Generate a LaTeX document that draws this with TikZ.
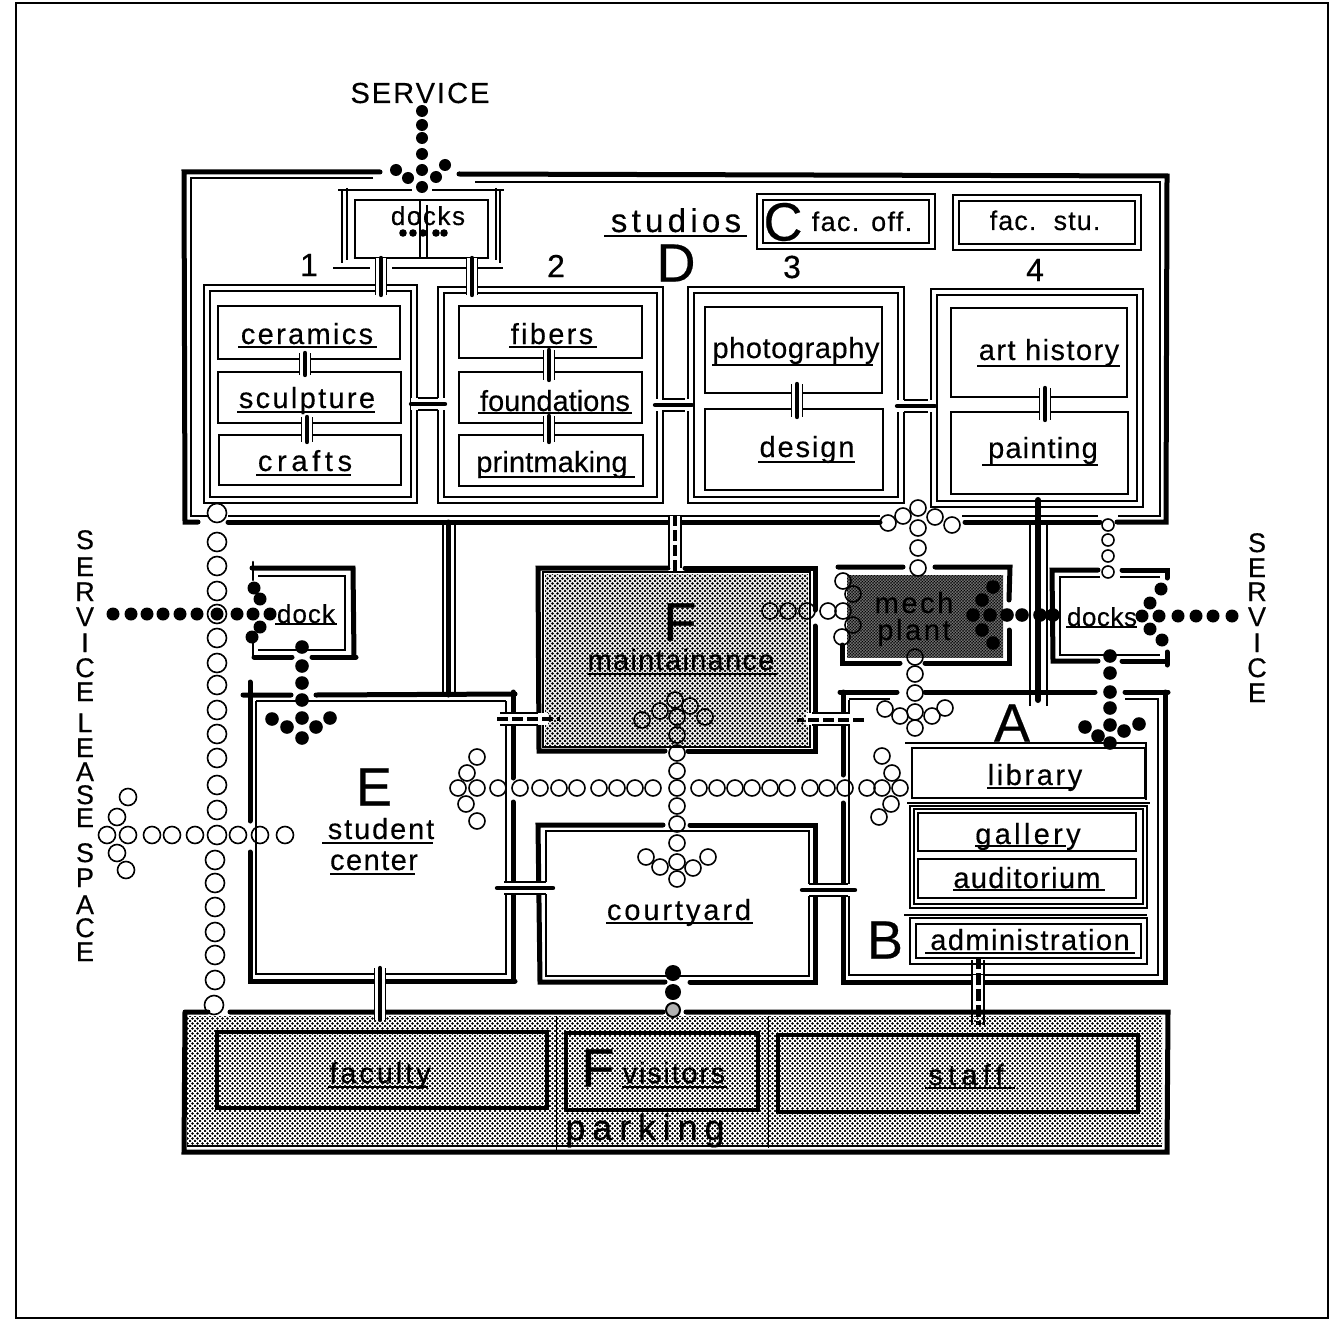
\documentclass[tikz,border=0pt]{standalone}
\usepackage{fontspec}
\setmainfont[FakeBold=0.35]{Liberation Sans}
\usetikzlibrary{patterns}
\pgfdeclarepatternformonly{ht}{\pgfqpoint{-1pt}{-1pt}}{\pgfqpoint{5.5pt}{5.5pt}}{\pgfqpoint{5pt}{5pt}}{%
 \pgfpathcircle{\pgfqpoint{0pt}{0pt}}{1.45pt}\pgfpathcircle{\pgfqpoint{2.5pt}{2.5pt}}{1.45pt}\pgfusepath{fill}}
\pgfdeclarepatternformonly{htd}{\pgfqpoint{-1pt}{-1pt}}{\pgfqpoint{3.5pt}{3.5pt}}{\pgfqpoint{3pt}{3pt}}{%
 \pgfpathcircle{\pgfqpoint{0pt}{0pt}}{1.05pt}\pgfpathcircle{\pgfqpoint{1.5pt}{1.5pt}}{1.05pt}\pgfusepath{fill}}
\tikzset{
 hw/.style={line width=5pt,line cap=round},
 rw/.style={line width=2.6pt,line cap=round},
 lw/.style={line width=1.2pt},
 oring/.style={line width=1.6pt},
 txt/.style={anchor=base,inner sep=0pt,font=\fontsize{29}{31}\selectfont},
 big/.style={inner sep=0pt,font=\fontsize{54}{56}\selectfont},
 num/.style={inner sep=0pt,font=\fontsize{32}{34}\selectfont},
 caps/.style={inner sep=0pt,anchor=north,align=center,font=\fontsize{27}{23}\selectfont},
}
\newcommand\lab[5]{\node[txt] (#1) at (#2,#3) {\addfontfeature{LetterSpace=#4}#5};}
\newcommand\ul[3]{\draw[line width=1.4pt] (#1,#3)--(#2,#3);}
\newcommand\oc[2]{\foreach \x/\y in {#2}{\draw[oring] (\x,\y) circle[radius=#1pt];}}
\newcommand\bc[2]{\foreach \x/\y in {#2}{\fill (\x,\y) circle[radius=#1pt];}}
\newcommand\rr[4]{\draw[rw,line cap=butt,line join=miter] (#1,#2) rectangle (#3,#4);}
\newcommand\dr[4]{\draw[rw,line join=miter] (#1,#2) rectangle (#3,#4);
 \draw[lw] ({#1+6},{#2+6}) rectangle ({#3-6},{#4-6});}
\newcommand\hd[3]{\fill[white] (#1,{#3-6}) rectangle (#2,{#3+6});
 \draw[line width=4.4pt,line cap=round] (#1,#3)--(#2,#3);
 \draw[lw] ({#1+7},{#3-6})--({#2-7},{#3-6}) ({#1+7},{#3+6})--({#2-7},{#3+6});}
\newcommand\vd[3]{\fill[white] ({#1-5.5},#2) rectangle ({#1+5.5},#3);
 \draw[line width=4.4pt,line cap=round] (#1,#2)--(#1,#3);
 \draw[lw] ({#1-5.5},#2)--({#1-5.5},#3) ({#1+5.5},#2)--({#1+5.5},#3);}
\begin{document}
\begin{tikzpicture}[x=1pt,y=-1pt]
\useasboundingbox (0,0) rectangle (1337,1321);
\draw[line width=1.5pt] (16,3) rectangle (1328,1318);
%% shaded fields
\fill[black!8] (545,574) rectangle (808,745);
\fill[pattern=ht] (545,574) rectangle (808,745);
\fill[black!15] (847,575) rectangle (1003,657);
\fill[pattern=htd] (847,575) rectangle (1003,657);
\fill[pattern=ht] (187,1016) rectangle (1162,1146);
%% studios outer
\draw[hw] (380,172)--(184,172)--(185,522)--(198,522);
\draw[hw] (459,174)--(1167,176)--(1166,522)--(1117,522);
\draw[hw] (1100,522)--(965,522);
\draw[hw] (228,522)--(880,522);
\draw[lw] (373,178)--(191,178)--(191,516)--(208,516);
\draw[lw] (475,182)--(1160,182)--(1160,516)--(1118,516);
\draw[lw] (228,516)--(880,516) (962,516)--(1098,516);
%% docks top
\draw[rw,line cap=butt] (342,190)--(342,263) (500,190)--(500,263);
\draw[lw] (338,190)--(412,190) (432,190)--(504,190);
\draw[lw] (347,188)--(347,260) (496,188)--(496,260);
\draw[lw] (355,200) rectangle (488,258);
\draw[lw] (333,268)--(370,268) (392,268)--(503,268);
\draw[lw] (420,200)--(420,258) (427,205)--(427,258);
\draw[rw] (355,258)--(488,258);
%% groups
\dr{204}{285}{417}{503}
\dr{438}{287}{663}{503}
\dr{688}{287}{904}{503}
\dr{931}{289}{1143}{507}
%% rooms
\rr{218}{306}{400}{359}\rr{218}{372}{401}{423}\rr{219}{435}{401}{485}
\rr{459}{306}{642}{358}\rr{459}{372}{642}{423}\rr{459}{435}{643}{486}
\rr{705}{307}{882}{393}\rr{705}{409}{883}{490}
\rr{951}{308}{1127}{397}\rr{951}{412}{1128}{494}
\dr{757}{194}{935}{249}
\dr{953}{195}{1141}{250}
%% room doors
\vd{305}{353}{375}\vd{307}{417}{442}\vd{549}{350}{380}\vd{549}{416}{442}
\vd{797}{384}{417}\vd{1045}{388}{420}
\vd{381}{258}{295}\vd{472}{258}{295}
\hd{411}{445}{404}\hd{655}{692}{405}\hd{897}{935}{406}
%% left dock
\draw[hw] (252,568)--(353,568)--(354,657);
\draw[hw] (254,657)--(292,657) (312,657)--(356,657);
\draw[rw] (253,562)--(253,580) (253,640)--(253,657);
\draw[lw] (258,576)--(345,576)--(345,650)--(258,650);
%% student centre
\draw[hw] (243,695)--(291,695) (316,695)--(515,694);
\draw[hw] (250,682)--(250,821) (250,852)--(250,981)--(515,981);
\draw[hw] (513,692)--(513,778) (513,802)--(513,981);
\draw[lw] (256,701)--(506,701) (256,701)--(256,974)--(506,974)--(506,701);
%% long walls
\draw[hw] (448,522)--(448,695);
\draw[lw] (443,522)--(443,693) (455,522)--(455,693);
\draw[line width=6pt,line cap=round] (1038,500)--(1038,700);
\draw[lw] (1030,525)--(1030,706) (1047,525)--(1047,706);
%% maintenance
\draw[hw] (668,568)--(538,568)--(539,751)--(665,751);
\draw[hw] (685,568)--(815,568)--(815,610) (815,626)--(815,751)--(688,751);
\draw[lw] (543,572) rectangle (810,747);
%% courtyard
\draw[hw] (663,825)--(538,825)--(540,982)--(665,982);
\draw[hw] (690,825)--(815,825)--(815,982)--(690,982);
\draw[lw] (546,831)--(809,831)--(809,976)--(546,976)--cycle;
%% mech plant
\draw[hw] (903,567)--(838,567) (935,567)--(1010,567)--(1009,600);
\draw[hw] (1009,630)--(1009,663)--(925,663) (900,663)--(842,663)--(842,645);
%% right docks
\draw[hw] (1098,570)--(1052,570)--(1053,661)--(1098,661);
\draw[hw] (1122,570)--(1167,570)--(1167,578) (1122,661)--(1167,661) (1167,652)--(1167,665);
\draw[lw] (1100,577)--(1060,577)--(1060,655)--(1160,655) (1120,577)--(1160,577);
%% A / B
\draw[hw] (840,692)--(897,692) (925,692)--(1095,692) (1125,692)--(1168,692);
\draw[hw] (1165,692)--(1165,982)--(843,982)--(843,803) (843,775)--(843,692);
\draw[lw] (849,700)--(849,975)--(1158,975)--(1158,699)--(1125,699);
\draw[lw] (849,699)--(890,699);
\dr{910}{918}{1147}{964}
\draw[rw,line cap=butt] (912,748) rectangle (1145,798);
\draw[lw] (905,743)--(1147,743) (1146,742)--(1146,800) (907,803)--(1150,803);
\draw[lw] (910,806) rectangle (1147,908);
\draw[rw,line cap=butt] (914,809) rectangle (1143,904);
\draw[rw,line cap=butt] (918,813) rectangle (1136,851);
\draw[rw,line cap=butt] (918,859) rectangle (1136,898);
\draw[lw] (904,915)--(1147,915);
%% parking
\draw[hw] (185,1012)--(208,1012) (230,1012)--(663,1012) (686,1012)--(1168,1012)--(1167,1152)--(184,1152)--(185,1012);
\draw[lw] (187,1146)--(1162,1146);
\draw[line width=0.9pt] (556,1016)--(556,1150) (768,1016)--(768,1148);
\draw[line width=4pt,line join=miter] (217,1032) rectangle (547,1108);
\draw[line width=4pt,line join=miter] (566,1033) rectangle (758,1110);
\draw[line width=4pt,line join=miter] (778,1035) rectangle (1138,1112);
%% connecting doors
\vd{380}{968}{1020}
\hd{497}{553}{888}\hd{802}{855}{890}
\fill[white] (669,516) rectangle (681,568);
\draw[lw] (669,516)--(669,568) (681,516)--(681,568);
\draw[line width=4.4pt,dash pattern=on 11pt off 4pt] (675,515)--(675,572);
\fill[white] (497,713) rectangle (548,725);
\draw[lw] (500,713)--(538,713) (500,725)--(538,725);
\draw[line width=4.4pt,dash pattern=on 11pt off 4pt] (497,719)--(560,719);
\fill[white] (806,713) rectangle (850,725);
\draw[lw] (812,713)--(850,713) (812,725)--(850,725);
\draw[line width=4.4pt,dash pattern=on 11pt off 4pt] (864,720)--(797,720);
\fill[white] (972,975) rectangle (984,1008);
\draw[lw] (972,960)--(972,1025) (984,960)--(984,1025);
\draw[line width=5pt,dash pattern=on 12pt off 4pt] (978,957)--(978,1025);
%% circulation: open
\oc{9.5}{217/513,217/542,217/566,217/591,217/614,217/638,217/663,217/685,217/710,217/734,217/758,217/785,217/810,217/835,215/860,215/883,215/907,215/932,215/955,215/980,214/1005}
\oc{8.5}{107/835,128/835,152/835,172/835,195/835,238/835,260/835,285/835,128/797,117/817,117/853,126/870}
\oc{8}{458/788,477/788,498/788,520/788,540/788,559/788,577/788,599/788,617/788,635/788,653/788,677/788,699/788,717/788,735/788,752/788,770/788,787/788,810/788,827/788,845/788,867/788,882/788,900/788,477/757,467/773,466/804,477/821,882/756,892/773,891/804,879/817}
\oc{8}{675/700,677/717,677/735,677/753,677/771,677/806,677/824,677/843,677/862,677/879,642/720,660/711,690/706,705/717,646/857,660/867,693/868,708/857}
\oc{8}{918/508,918/528,918/548,918/568,888/523,903/516,935/517,952/525,915/657,915/674,915/693,915/712,915/728,885/709,900/716,932/716,945/708}
\oc{8}{770/611,788/611,807/611,828/611,843/611,843/581,853/594,853/625,842/637}
\oc{6}{1108/525,1108/540,1108/556,1108/572}
%% circulation: filled
\bc{6.5}{113/614,131/614,147/614,163/614,180/614,197/614,217/614,237/614,253/614,270/614,254/588,260/599,260/627,252/637}
\bc{6.8}{302/647,302/666,302/683,302/700,302/718,302/738,272/719,287/727,316/727,330/718}
\bc{6.8}{973/615,990/615,1007/615,1022/615,1040/615,1053/615,993/587,982/600,982/630,993/643}
\bc{6.5}{1232/616,1213/616,1196/616,1178/616,1159/616,1142/616,1161/589,1150/603,1150/629,1162/640}
\bc{6.8}{1110/656,1110/673,1110/692,1110/708,1110/725,1110/743,1085/727,1098/736,1124/731,1139/724}
\bc{6}{422/111,422/125,422/138,422/154,422/170,422/187,396/170,408/178,436/177,445/165}
\bc{3.8}{403/233,413/233,423/233,436/233,444/233}
\bc{8}{673/973,673/992}
\draw[line width=2pt,fill=black!30] (673,1010) circle[radius=7pt];
%% labels
\lab{tc}{420}{103}{7}{SERVICE}
\lab{tdk}{428}{225}{6}{\fontsize{26}{28}\selectfont docks}
\lab{tst}{676}{232}{13}{\fontsize{33}{35}\selectfont studios}
\ul{604}{747}{236}
\lab{tfo}{862}{231}{5}{\fontsize{27}{29}\selectfont fac. off.}
\lab{tfs}{1045}{230}{4}{\fontsize{27}{29}\selectfont fac.\ \ stu.}
\node[big] (nC) at (783,222) {C};
\node[big] (nD) at (676,263) {D};
\node[num] (n1) at (309,265) {1};
\node[num] (n2) at (556,266) {2};
\node[num] (n3) at (792,267) {3};
\node[num] (n4) at (1035,270) {4};
\lab{t1}{307}{344}{8}{ceramics}\ul{238}{377}{347}
\lab{t2}{307}{408}{8}{sculpture}\ul{237}{375}{412}
\lab{t3}{305}{471}{16}{crafts}\ul{256}{351}{475}
\lab{t4}{552}{344}{8}{fibers}\ul{509}{597}{347}
\lab{t5}{555}{411}{0}{foundations}\ul{478}{632}{413}
\lab{t6}{552}{472}{0.5}{printmaking}\ul{480}{635}{477}
\lab{t7}{796}{358}{2}{photography}\ul{712}{873}{365}
\lab{t8}{807}{457}{6.5}{design}\ul{758}{855}{462}
\lab{t9}{1049}{360}{5}{art history}\ul{977}{1120}{366}
\lab{t10}{1043}{458}{4}{painting}\ul{982}{1098}{465}
\lab{tdock}{306}{623}{4}{\fontsize{26}{28}\selectfont dock}\ul{275}{337}{624}
\lab{tdocks}{1102}{626}{2}{\fontsize{26}{28}\selectfont docks}\ul{1066}{1137}{627}
\node[big] (nE) at (374,787) {E};
\lab{ts}{381}{839}{6.5}{student}\ul{322}{433}{843}
\lab{tc2}{374}{870}{5}{center}\ul{330}{415}{874}
\node[big] (nF) at (680,622) {F};
\lab{tm}{681}{670}{4.5}{maintainance}\ul{587}{777}{674}
\lab{tme}{914}{613}{9}{mech}
\lab{tpl}{914}{640}{9}{plant}
\lab{tcy}{679}{920}{10}{courtyard}\ul{606}{753}{923}
\node[big] (nA) at (1012,723) {A};
\node[big] (nB) at (885,940) {B};
\lab{tl}{1035}{785}{9}{library}\ul{987}{1072}{788}
\lab{tg}{1028}{844}{11.5}{gallery}\ul{975}{1066}{846}
\lab{ta}{1027}{888}{4.5}{auditorium}\ul{953}{1105}{890}
\lab{tad}{1030}{950}{5}{administration}\ul{925}{1135}{953}
\lab{tfa}{380}{1083}{10}{faculty}\ul{328}{428}{1087}
\node[big] (nF2) at (598,1068) {F};
\lab{tv}{674}{1083}{6}{visitors}\ul{622}{727}{1087}
\lab{tsf}{966}{1085}{18}{staff}\ul{925}{1015}{1088}
\lab{tpk}{645}{1140}{19}{\fontsize{36}{38}\selectfont parking}
%% stacked side lettering
\node[caps] (sideL) at (85,530) {S\\[4pt]E\\[2pt]R\\[2pt]V\\[3pt]I\\[2pt]C\\[1pt]E\\[8pt]L\\[2pt]E\\[1pt]A\\[0pt]S\\[0pt]E\\[12pt]S\\[2pt]P\\[4pt]A\\[0pt]C\\[1pt]E};
\node[caps] (sideR) at (1257,533) {S\\[2pt]E\\[1pt]R\\[2pt]V\\[3pt]I\\[2pt]C\\[2pt]E};
\end{tikzpicture}
\end{document}
